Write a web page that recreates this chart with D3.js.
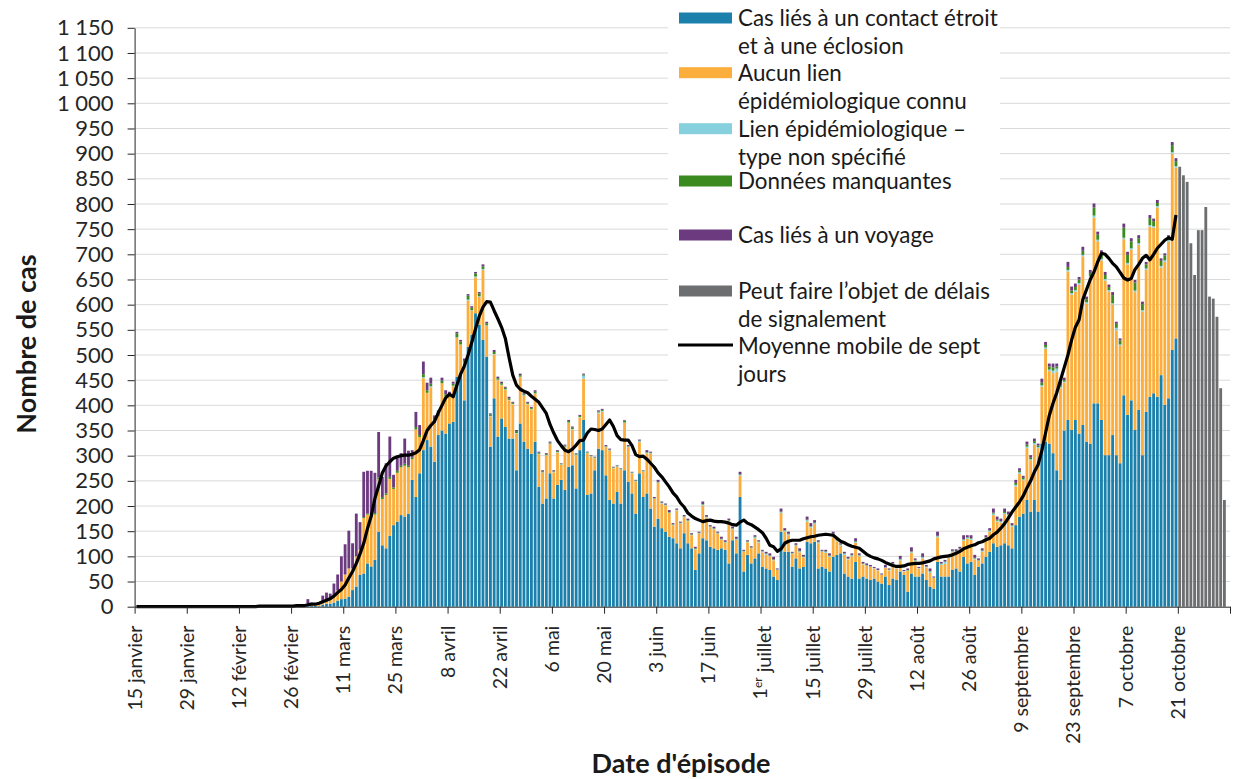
<!DOCTYPE html>
<html>
<head>
<meta charset="utf-8">
<script src="https://cdn.jsdelivr.net/npm/d3@7"></script>
<style>
  body { margin: 0; background: #fff; }
  svg { font-family: Lato, "Open Sans", sans-serif; }
  .grid line { stroke: #d9d9d9; stroke-width: 1; }
  .axis path, .axis line { stroke: #262626; }
  .axis text { fill: #262626; }
</style>
</head>
<body>
<script>
// daily categories: 15 janvier -> 3 novembre 2020 (294 days)
var days = d3.timeDay.range(new Date(2020, 0, 15), new Date(2020, 10, 4));

var tickLabels = ["15 janvier", "29 janvier", "12 février", "26 février", "11 mars", "25 mars",
  "8 avril", "22 avril", "6 mai", "20 mai", "3 juin", "17 juin", "1er juillet", "15 juillet",
  "29 juillet", "12 août", "26 août", "9 septembre", "23 septembre", "7 octobre", "21 octobre"];

var yTicks = d3.range(0, 1151, 50);

// one row = 14 days (from each tick label)
var contact = [
  0,0,0,0,0,0,0,0,0,0,0,0,0,0,
  0,0,0,0,0,0,0,0,0,0,0,0,0,0,
  0,0,0,0,0,0,0,0,0,0,1,0,0,0,
  0,0,1,0,2,2,2,1,4,6,6,8,12,15,
  16,20,33,40,63,66,86,80,93,149,122,116,141,162,
  169,182,179,185,252,218,265,311,331,318,288,341,350,344,
  364,367,457,463,410,516,540,583,560,530,497,318,414,338,
  374,357,334,334,271,364,328,314,304,328,238,205,215,265,
  215,242,252,232,278,281,235,311,371,222,225,271,314,311,
  261,212,205,228,205,271,248,225,185,265,218,225,195,159,
  175,156,149,139,136,126,116,146,126,116,73,106,136,132,
  119,116,113,116,113,86,132,106,218,70,103,86,96,106,
  79,76,73,60,53,149,109,109,79,96,76,79,129,126,
  129,76,79,76,70,99,103,106,66,60,56,89,56,60,
  56,53,56,50,46,60,43,56,53,70,63,30,66,60,
  60,66,53,40,36,89,60,60,60,73,76,70,99,86,
  89,63,79,86,99,109,126,119,122,126,122,116,162,179,
  185,212,189,212,189,324,328,324,305,271,252,350,371,351,
  371,344,361,328,324,404,404,371,301,301,341,301,285,420,
  381,410,351,391,301,387,417,424,417,460,401,414,510,533,
  0,0,0,0,0,0,0,0,0,0,0,0,0,0
];

var aucunLien = [
  0,0,0,0,0,0,0,0,0,0,0,0,0,0,
  0,0,0,0,0,0,0,0,0,0,0,0,0,0,
  0,0,0,0,0,0,0,1,0,0,0,0,0,0,
  0,1,0,1,4,2,2,3,6,8,8,14,20,35,
  48,56,43,60,50,110,97,97,90,104,92,106,113,72,
  97,95,101,92,41,134,72,143,94,118,77,37,94,74,
  54,71,77,57,74,92,48,71,55,139,61,60,87,112,
  66,74,76,68,73,92,91,88,88,95,65,61,85,58,
  52,64,30,85,87,71,66,65,82,83,73,24,70,76,
  56,98,70,50,67,94,69,40,64,62,50,80,109,55,
  71,49,52,47,26,65,49,32,44,26,41,39,65,45,
  39,38,32,17,14,84,22,27,42,39,25,30,40,21,
  29,27,27,32,20,37,40,33,26,25,32,19,40,31,
  35,50,30,31,29,39,27,15,37,34,44,38,44,24,
  25,26,20,22,17,17,29,27,23,22,7,41,41,30,
  16,30,25,27,21,49,23,25,37,35,31,43,32,49,
  44,31,12,23,36,40,56,50,45,58,59,43,77,85,
  66,103,102,110,126,113,184,144,159,196,182,95,295,269,
  255,296,335,274,330,369,322,317,347,325,259,248,233,310,
  299,299,274,328,285,282,338,329,376,214,284,311,390,339,
  0,0,0,0,0,0,0,0,0,0,0,0,0,0
];

var lienNonSpecifie = [
  0,0,0,0,0,0,0,0,0,0,0,0,0,0,
  0,0,0,0,0,0,0,0,0,0,0,0,0,0,
  0,0,0,0,0,0,0,0,0,0,0,0,0,0,
  0,0,0,0,1,0,0,1,0,0,0,0,0,0,
  0,0,0,0,0,0,0,0,0,0,0,0,0,0,
  0,0,0,0,0,0,0,2,0,2,0,0,0,0,
  1,1,1,1,1,2,1,2,2,2,1,1,1,1,
  1,1,1,1,1,1,1,1,1,1,1,1,1,1,
  1,1,1,1,1,1,1,1,6,1,1,1,2,2,
  1,1,1,1,1,1,1,1,1,2,1,1,1,1,
  1,1,1,1,1,1,1,1,1,1,1,1,2,1,
  1,1,1,1,1,1,1,1,2,1,1,1,2,2,
  2,2,1,1,1,2,2,2,1,1,2,1,3,2,
  2,2,1,2,2,6,2,2,2,1,2,2,2,1,
  1,1,1,1,1,1,1,2,1,2,1,1,2,2,
  1,2,1,3,1,2,2,4,2,2,2,2,2,2,
  2,2,1,2,2,2,3,2,2,2,2,2,3,3,
  2,3,2,3,2,3,3,3,5,6,3,2,3,3,
  3,3,3,3,3,4,3,3,3,3,3,5,3,3,
  3,3,3,3,3,3,3,3,3,3,3,3,3,3,
  0,0,0,0,0,0,0,0,0,0,0,0,0,0
];

var manquantes = [
  0,0,0,0,0,0,0,0,0,0,0,0,0,0,
  0,0,0,0,0,0,0,0,0,0,0,0,0,0,
  0,0,0,0,0,0,0,0,0,0,0,0,0,0,
  0,0,0,0,0,0,0,0,0,0,0,0,0,0,
  0,0,0,0,0,2,2,3,3,4,4,3,4,3,
  4,3,4,3,3,5,4,6,5,5,5,4,5,4,
  4,4,8,6,5,8,5,6,5,5,4,3,4,3,
  3,3,3,2,4,3,2,2,2,3,2,2,2,2,
  1,2,1,2,3,3,2,2,2,1,1,1,2,2,
  1,1,1,1,1,4,1,1,1,1,1,1,1,1,
  1,1,1,1,1,1,1,1,1,1,1,1,1,1,
  1,1,1,1,1,1,1,1,1,1,1,1,1,1,
  1,1,1,1,0,1,1,1,1,1,1,1,1,1,
  1,1,1,1,1,1,1,1,1,1,1,1,1,1,
  1,0,0,0,0,0,1,1,0,1,0,1,1,1,
  0,1,1,1,0,1,1,1,1,1,1,1,1,1,
  1,1,1,1,1,1,2,2,1,2,1,1,4,3,
  3,4,3,4,3,5,5,6,6,4,3,3,6,5,
  6,7,8,6,6,16,10,12,8,6,16,8,8,20,
  16,14,16,10,12,8,14,10,6,10,10,6,14,10,
  0,0,0,0,0,0,0,0,0,0,0,0,0,0
];

var voyage = [
  0,0,0,0,0,0,0,0,0,0,1,0,0,0,
  0,0,0,1,0,0,0,0,0,0,0,0,1,0,
  0,0,1,0,0,1,1,0,1,1,0,1,1,2,
  2,1,2,3,8,4,3,4,12,14,12,24,32,50,
  60,75,50,85,55,90,85,90,80,90,40,60,80,25,
  30,25,50,30,15,30,20,25,15,12,10,8,6,8,
  4,4,3,3,3,3,3,3,3,4,3,2,4,3,
  3,2,3,2,2,3,2,2,2,3,2,2,2,2,
  2,2,1,2,2,2,1,2,2,1,1,1,2,2,
  2,2,1,1,1,1,2,1,1,2,1,4,2,2,
  4,2,2,4,2,2,2,2,3,2,3,2,5,3,
  2,3,2,4,3,3,3,4,5,2,2,2,3,2,
  2,3,4,5,2,6,4,4,2,3,5,3,6,6,
  5,3,2,3,4,4,3,2,3,3,3,6,3,3,
  3,3,2,3,2,5,2,3,3,6,2,3,8,3,
  2,7,3,5,2,8,3,3,3,3,4,3,8,4,
  6,6,3,4,4,4,8,6,5,7,5,4,6,5,
  4,6,5,5,4,8,6,6,8,6,7,5,10,8,
  7,5,8,5,6,8,6,5,6,5,6,4,4,8,
  6,6,5,6,5,5,6,5,6,5,4,4,6,6,
  0,0,0,0,0,0,0,0,0,0,0,0,0,0
];

// last 14 days (may be subject to reporting delays)
var delais = [874,857,844,722,659,748,748,794,616,612,576,434,212,0];

// seven-day moving average, 15 janvier -> 20 octobre
var moyenne = [
  0,0,0,0,0,0,0,0,0,0,0,0,0,0,
  0,0,0,0,0,0,0,0,0,0,0,0,0,0,
  0,0,0,0,0,1,1,1,1,1,1,1,1,1,
  1,2,2,2,4,5,5,7,10,13,16,21,28,34,
  43,57,70,86,105,126,155,180,215,240,266,280,288,295,
  298,300,301,301,303,306,312,330,350,360,368,385,400,415,
  422,417,440,462,478,500,525,552,577,595,606,605,588,572,
  555,533,495,460,440,432,428,425,418,412,406,395,384,362,
  345,330,320,311,308,313,321,330,331,345,353,352,350,353,
  362,371,358,340,332,331,331,320,302,298,299,293,285,277,
  266,258,248,238,226,218,206,198,186,180,175,172,169,171,
  172,170,169,169,168,166,163,162,168,172,166,163,158,153,
  147,136,122,119,110,115,126,130,132,132,132,135,137,139,
  140,142,143,144,143,142,136,130,127,123,120,118,116,110,
  104,100,97,95,92,88,85,82,80,80,81,84,85,86,
  86,87,89,91,95,97,99,100,101,103,106,110,115,118,
  121,123,127,129,133,136,143,148,156,165,176,188,198,208,
  220,236,250,268,282,310,345,380,404,425,450,475,500,530,
  555,570,610,630,650,665,685,702,700,692,682,675,664,653,
  649,652,670,680,692,698,689,700,712,720,728,733,730,778
];

var keys = ["contact", "aucunLien", "lienNonSpecifie", "manquantes", "voyage", "delais"];
var colors = {
  contact: "#1b80ab", aucunLien: "#fbae3c", lienNonSpecifie: "#86d1dd",
  manquantes: "#3b8a1f", voyage: "#6b3a7f", delais: "#6d6e70"
};
var legendItems = [
  {key: "contact", lines: ["Cas liés à un contact étroit", "et à une éclosion"]},
  {key: "aucunLien", lines: ["Aucun lien", "épidémiologique connu"]},
  {key: "lienNonSpecifie", lines: ["Lien épidémiologique –", "type non spécifié"]},
  {key: "manquantes", lines: ["Données manquantes"]},
  {key: "voyage", lines: ["Cas liés à un voyage"]},
  {key: "delais", lines: ["Peut faire l’objet de délais", "de signalement"]},
  {key: "line", lines: ["Moyenne mobile de sept", "jours"]}
];

var nDays = days.length;
var greyStart = nDays - delais.length;

// table for d3.stack
var rows = days.map(function(d, i) {
  return {
    i: i,
    contact: contact[i], aucunLien: aucunLien[i], lienNonSpecifie: lienNonSpecifie[i],
    manquantes: manquantes[i], voyage: voyage[i],
    delais: i >= greyStart ? delais[i - greyStart] : 0
  };
});

var W = 1233, H = 779;
var plotLeft = 134.6, plotRight = 1230, plotTop = 27.8, plotBottom = 606.7;

var svg = d3.select("body").append("svg")
  .attr("width", W).attr("height", H);

var x = d3.scaleBand().domain(d3.range(nDays)).range([plotLeft, plotRight])
  .paddingInner(0.24).paddingOuter(0.12);
var xb = d3.scaleLinear().domain([0, nDays]).range([plotLeft, plotRight]);
var y = d3.scaleLinear().domain([0, 1150]).range([plotBottom, plotTop]);

// gridlines
svg.append("g").attr("class", "grid")
  .selectAll("line").data(yTicks.slice(1)).enter().append("line")
  .attr("x1", plotLeft).attr("x2", plotRight)
  .attr("y1", function(d) { return y(d); }).attr("y2", function(d) { return y(d); });

// legend background hides the gridlines behind it
svg.append("rect").attr("x", 668).attr("y", 0).attr("width", 332).attr("height", 393)
  .attr("fill", "#fff");

// stacked bars
var series = d3.stack().keys(keys)(rows);
svg.append("g").selectAll("g").data(series).enter().append("g")
  .attr("fill", function(s) { return colors[s.key]; })
  .selectAll("rect")
  .data(function(s) { return s.filter(function(d) { return d[1] > d[0]; }); })
  .enter().append("rect")
  .attr("x", function(d) { return x(d.data.i); })
  .attr("width", x.bandwidth())
  .attr("y", function(d) { return y(d[1]); })
  .attr("height", function(d) { return y(d[0]) - y(d[1]); });

// moving average
var line = d3.line()
  .x(function(d, i) { return x(i) + x.bandwidth() / 2; })
  .y(function(d) { return y(d); });
svg.append("path").datum(moyenne)
  .attr("d", line).attr("fill", "none")
  .attr("stroke", "#000").attr("stroke-width", 3.2).attr("stroke-linejoin", "round");

// y axis
var fr = d3.formatLocale({decimal: ",", thousands: " ", grouping: [3], currency: ["", ""]});
var ya = svg.append("g").attr("class", "axis")
  .attr("transform", "translate(" + plotLeft + ",0)")
  .call(d3.axisLeft(y).tickValues(yTicks).tickFormat(fr.format(",d"))
    .tickSize(7).tickPadding(14).tickSizeOuter(0))
  .attr("font-family", null).attr("font-size", null);
ya.selectAll("text").style("font-size", "22px");

// x axis: ticks between the two-week groups
svg.append("g").attr("class", "axis")
  .attr("transform", "translate(0," + plotBottom + ")")
  .call(d3.axisBottom(xb).tickValues(d3.range(0, nDays + 1, 14)).tickFormat("")
    .tickSize(7).tickSizeOuter(0));

// x labels, rotated
var labelIdx = d3.range(0, nDays, 14);
var xl = svg.append("g").attr("class", "axis")
  .attr("transform", "translate(0," + plotBottom + ")")
  .call(d3.axisBottom(x).tickValues(labelIdx).tickSize(0)
    .tickFormat(function(d, k) { return tickLabels[k]; }))
  .attr("font-family", null).attr("font-size", null);
xl.select(".domain").remove();
xl.selectAll("text")
  .attr("x", -19).attr("y", 0).attr("dy", "0.26em")
  .attr("transform", "rotate(-90)")
  .style("text-anchor", "end").style("font-size", "19.5px")
  .each(function(d, k) {
    var lab = tickLabels[k];
    if (lab.indexOf("1er") === 0) {
      var t = d3.select(this).text("1");
      t.append("tspan").attr("dy", "-0.45em").style("font-size", "12px").text("er");
      t.append("tspan").attr("dy", "0.45em").text(lab.slice(3));
    }
  });

// axis titles
svg.append("text")
  .attr("transform", "translate(36,344) rotate(-90)")
  .attr("text-anchor", "middle")
  .style("font-size", "27px").style("font-weight", "bold").style("fill", "#1a1a1a")
  .text("Nombre de cas");

svg.append("text")
  .attr("x", 681).attr("y", 773)
  .attr("text-anchor", "middle")
  .style("font-size", "27px").style("font-weight", "bold").style("fill", "#1a1a1a")
  .text("Date d'épisode");

// legend
var legendY = [26, 80.7, 136.7, 189, 243, 299, 354];
var lg = svg.append("g").selectAll("g").data(legendItems).enter().append("g")
  .attr("transform", function(d, k) { return "translate(0," + legendY[k] + ")"; });
lg.each(function(d) {
  var g = d3.select(this);
  if (d.key === "line") {
    g.append("line").attr("x1", 678).attr("x2", 733).attr("y1", -9).attr("y2", -9)
      .attr("stroke", "#000").attr("stroke-width", 3);
  } else {
    g.append("rect").attr("x", 679).attr("y", -13.5).attr("width", 53).attr("height", 11)
      .attr("fill", colors[d.key]);
  }
  g.selectAll("text").data(d.lines).enter().append("text")
    .attr("x", 738).attr("y", function(t, j) { return j * 28; })
    .style("font-size", "22.4px").style("fill", "#1a1a1a")
    .text(function(t) { return t; });
});
</script>
</body>
</html>
